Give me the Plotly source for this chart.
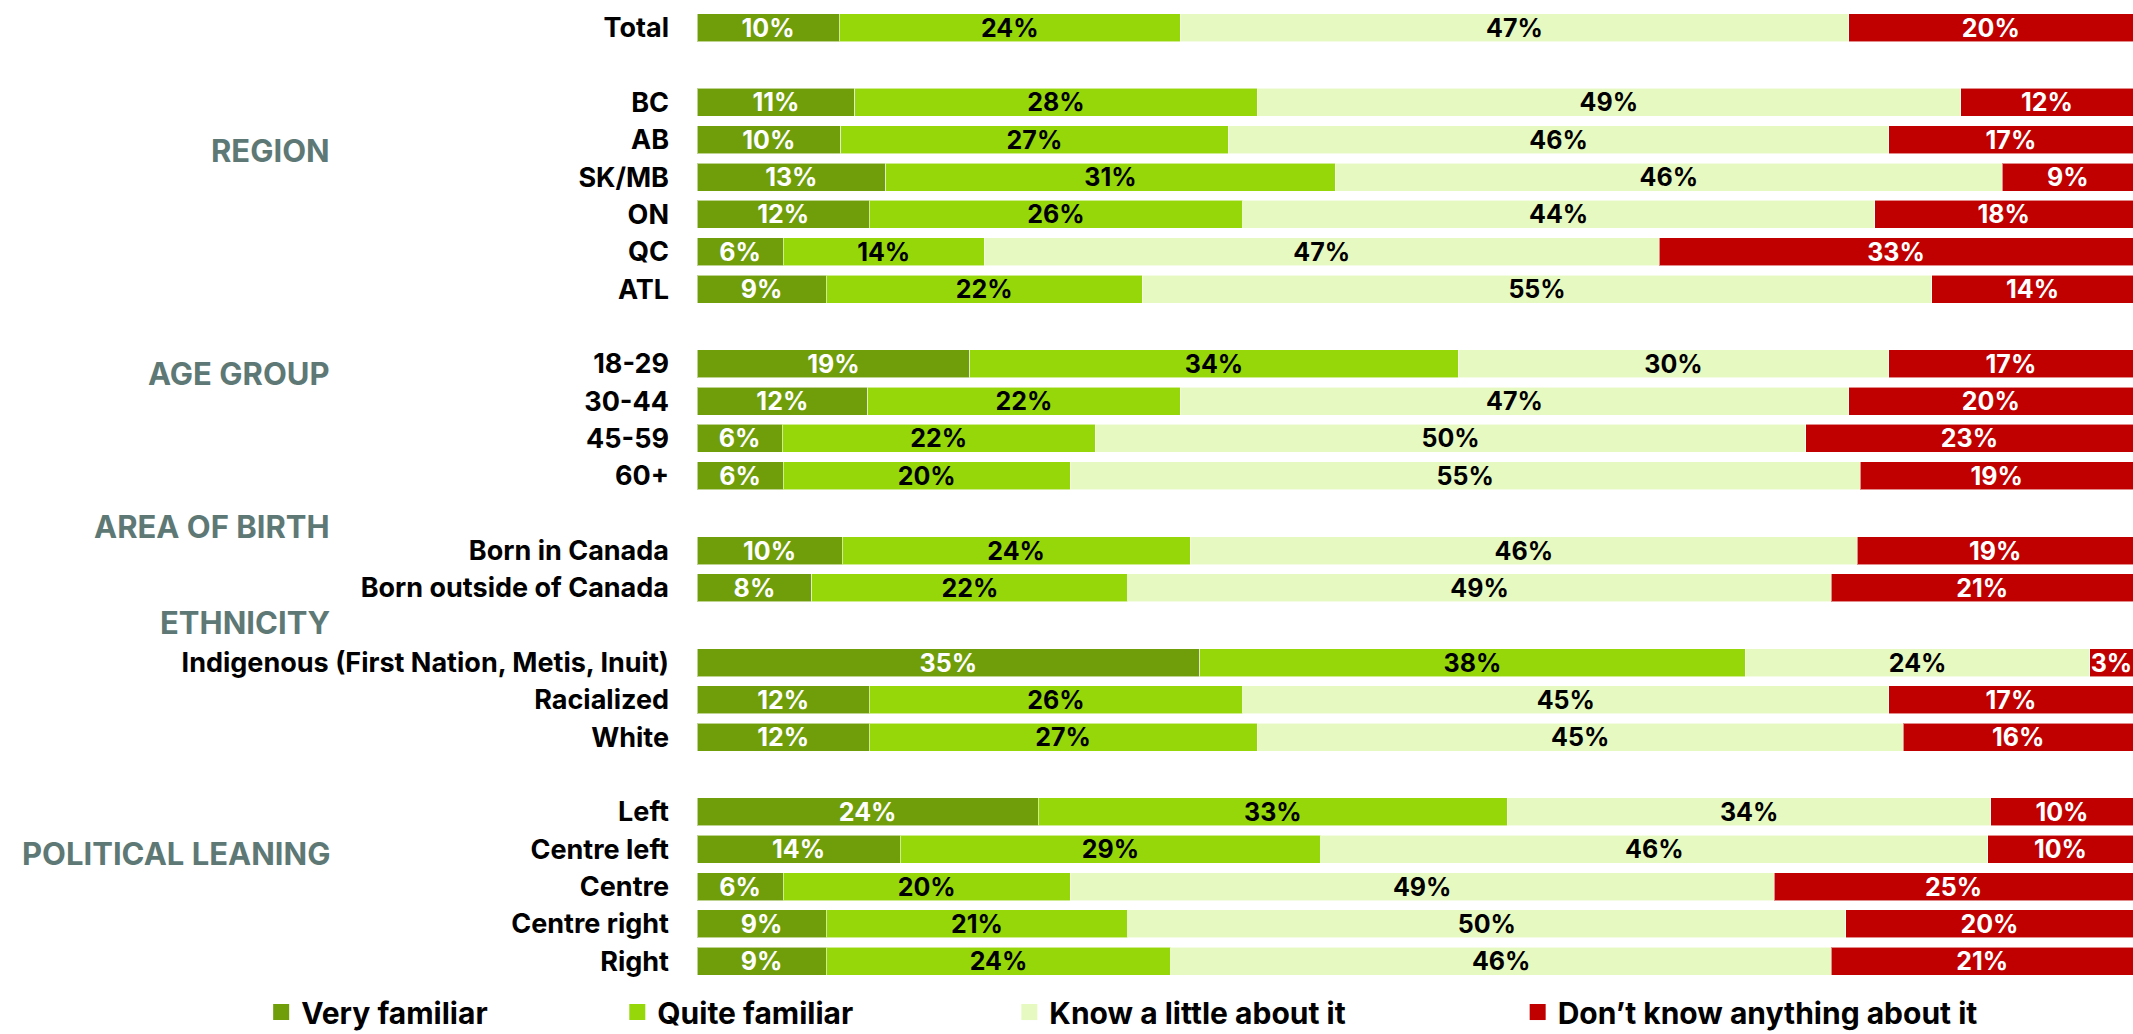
import plotly.graph_objects as go

# rows of the chart, top to bottom; blank strings are spacer rows between groups
categories = [
    "Total", " ",
    "BC", "AB", "SK/MB", "ON", "QC", "ATL", "  ",
    "18-29", "30-44", "45-59", "60+", "   ",
    "Born in Canada", "Born outside of Canada", "    ",
    "Indigenous (First Nation, Metis, Inuit)", "Racialized", "White", "     ",
    "Left", "Centre left", "Centre", "Centre right", "Right",
]
rows = [c for c in categories if c.strip()]

very_familiar = [10, 11, 10, 13, 12, 6, 9, 19, 12, 6, 6, 10, 8, 35, 12, 12, 24, 14, 6, 9, 9]
quite_familiar = [24, 28, 27, 31, 26, 14, 22, 34, 22, 22, 20, 24, 22, 38, 26, 27, 33, 29, 20, 21, 24]
know_a_little = [47, 49, 46, 46, 44, 47, 55, 30, 47, 50, 55, 46, 49, 24, 45, 45, 34, 46, 49, 50, 46]
dont_know = [20, 12, 17, 9, 18, 33, 14, 17, 20, 23, 19, 19, 21, 3, 17, 16, 10, 10, 25, 20, 21]

series_names = ["Very familiar", "Quite familiar", "Know a little about it", "Don\u2019t know anything about it"]
series_values = [very_familiar, quite_familiar, know_a_little, dont_know]
series_colors = ["#6f9e0a", "#96d70a", "#e6f9c0", "#c00000"]
text_colors = ["white", "black", "black", "white"]

# group headings and the row slot they sit at
group_labels = ["REGION", "AGE GROUP", "AREA OF BIRTH", "ETHNICITY", "POLITICAL LEANING"]
group_slots = [3.28, 9.25, 13.35, 15.92, 22.1]

FONT = "Inter, Lato, sans-serif"
WEIGHT = 700

fig = go.Figure()

for name, vals, color, tcolor in zip(series_names, series_values, series_colors, text_colors):
    fig.add_trace(go.Bar(
        y=rows,
        x=vals,
        orientation="h",
        name=name,
        marker=dict(color=color, line=dict(color="rgba(255,255,255,0.55)", width=1)),
        text=[f"{v}%" for v in vals],
        textposition="inside",
        insidetextanchor="middle",
        textangle=0,
        textfont=dict(family=FONT, size=25, color=tcolor, weight=WEIGHT),
        showlegend=False,
        hoverinfo="skip",
    ))

# legend entries, one legend box each so they can be spaced like the original
legend_ids = ["legend", "legend2", "legend3", "legend4"]
legend_x = [-0.3035, -0.0555, 0.2175, 0.5715]
for name, color, lid in zip(series_names, series_colors, legend_ids):
    fig.add_trace(go.Scatter(
        x=[None], y=[None], mode="markers", name=name,
        marker=dict(symbol="square", size=16, color=color),
        legend=lid, showlegend=True,
    ))

legend_layout = {}
for lid, lx in zip(legend_ids, legend_x):
    legend_layout[lid] = dict(
        x=lx, y=-0.033, xanchor="left", yanchor="middle",
        orientation="h", bgcolor="rgba(0,0,0,0)",
        font=dict(family=FONT, size=30, color="black", weight=WEIGHT),
    )

for label, slot in zip(group_labels, group_slots):
    fig.add_annotation(
        text=label, xref="paper", yref="y", x=-0.2542, y=slot,
        xanchor="right", yanchor="middle", showarrow=False,
        font=dict(family=FONT, size=31, color="#5e7975", weight=WEIGHT),
    )

fig.update_layout(
    width=2133,
    height=1034,
    barmode="stack",
    barnorm="percent",
    bargap=0.25,
    plot_bgcolor="white",
    paper_bgcolor="white",
    margin=dict(l=697, r=0, t=9, b=54, autoexpand=False),
    uniformtext=dict(minsize=25, mode="show"),
    xaxis=dict(range=[0, 100], visible=False, fixedrange=True),
    yaxis=dict(
        type="category",
        categoryorder="array",
        categoryarray=categories,
        range=[len(categories) - 0.5, -0.5],
        showgrid=False, zeroline=False, showline=False,
        ticks="", ticklabelstandoff=27,
        tickfont=dict(family=FONT, size=27, color="black", weight=WEIGHT),
    ),
    **legend_layout,
)

fig.write_html("out.html", config={"displayModeBar": False},
               post_script="document.body.style.margin='0';")
